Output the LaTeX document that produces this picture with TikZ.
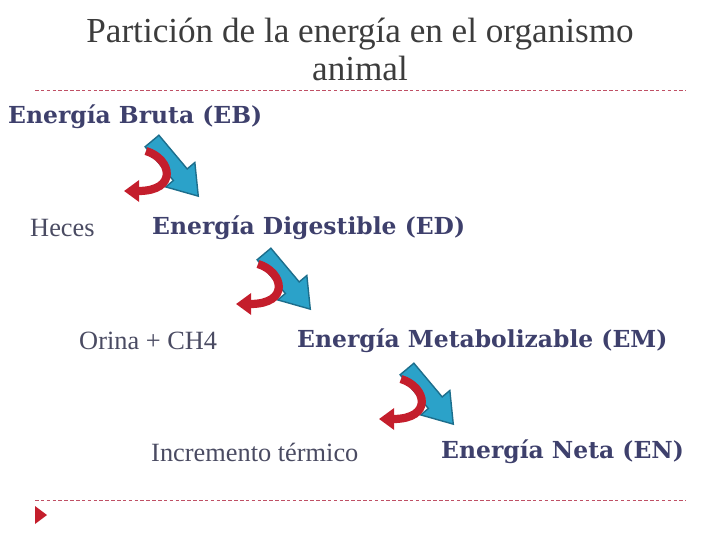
\documentclass[tikz,border=0pt]{standalone}
\usepackage{fontspec}
\setmainfont{Liberation Serif}
\newfontfamily\slabfont{DejaVu Serif}
\definecolor{titlegrey}{HTML}{3C3C3C}
\definecolor{slate}{HTML}{3E406C}
\definecolor{lossgrey}{HTML}{4A4B62}
\definecolor{dashred}{HTML}{BF5065}
\definecolor{arrowblue}{HTML}{2BA2C9}
\definecolor{arrowedge}{HTML}{1D6E8C}
\definecolor{curvered}{HTML}{C41E2C}
\usetikzlibrary{arrows.meta}
\tikzset{
  pics/lossarrow/.style={code={
    \draw[fill=arrowblue, draw=arrowedge, line width=1.2, rotate=-50]
      (0,-9) -- (44,-9) -- (44,-19) -- (72,0) -- (44,19) -- (44,9) -- (0,9) -- cycle;
    \draw[curvered, line width=7, -{Triangle[length=13, width=18]}]
      (-6,10) .. controls (20,18) and (26,50) .. (-28,50);
  }}
}
\begin{document}
\begin{tikzpicture}[x=0.03cm, y=-0.03cm,
    title/.style={text=titlegrey, font=\fontsize{30}{32.5}\selectfont, align=center},
    energy/.style={text=slate, font=\slabfont\bfseries\fontsize{20}{24}\selectfont, inner sep=0},
    loss/.style={text=lossgrey, font=\fontsize{22.5}{26}\selectfont, inner sep=0},
    rule/.style={dashred, dashed, dash pattern=on 3pt off 2pt, line width=0.6}]
    \useasboundingbox (0,0) rectangle (720,540);

    \node[title] (title) at (360,49) {Partición de la energía en el organismo\\animal};
    \coordinate (topl) at (35,90);
    \coordinate (topr) at (686,90);
    \coordinate (botl) at (35,500);
    \coordinate (botr) at (686,500);
    \draw[rule] (topl) -- (topr);
    \draw[rule] (botl) -- (botr);
    \fill[curvered] (35,506) -- (47,515) -- (35,524) -- cycle;

    \node[energy, anchor=west] (eb) at (8,117) {Energía Bruta (EB)};
    \node[energy, anchor=west] (ed) at (152,228) {Energía Digestible (ED)};
    \node[energy, anchor=west] (em) at (297,341) {Energía Metabolizable (EM)};
    \node[energy, anchor=west] (en) at (441,452) {Energía Neta (EN)};

    \node[loss, anchor=west] (heces) at (30,228) {Heces};
    \node[loss, anchor=west] (orina) at (79,341) {Orina + CH4};
    \node[loss, anchor=west] (calor) at (151,452) {Incremento térmico};

    \pic at (152,141) {lossarrow};
    \pic at (264,254) {lossarrow};
    \pic at (407,369) {lossarrow};
\end{tikzpicture}
\end{document}
